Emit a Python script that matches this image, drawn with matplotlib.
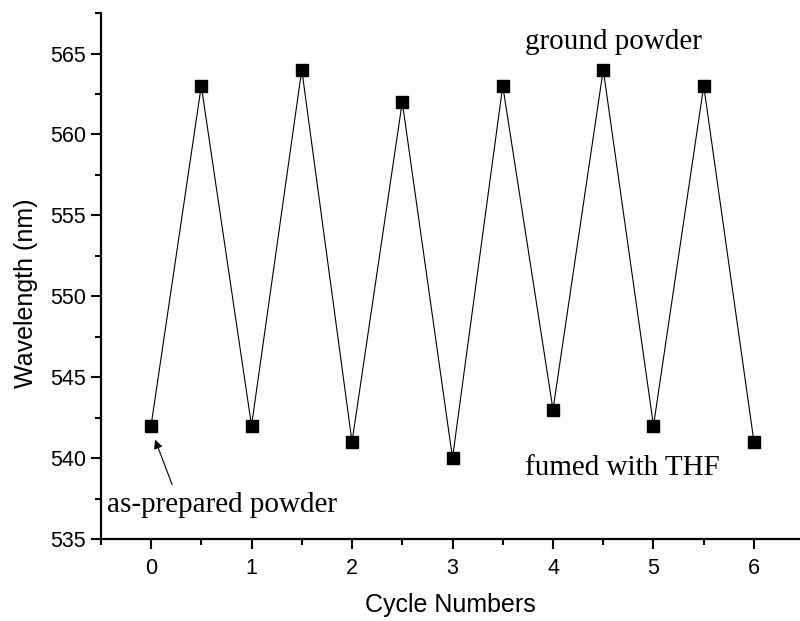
import matplotlib.pyplot as plt
from matplotlib.ticker import MultipleLocator

cycle = [0, 0.5, 1, 1.5, 2, 2.5, 3, 3.5, 4, 4.5, 5, 5.5, 6]
wavelength = [542, 563, 542, 564, 541, 562, 540, 563, 543, 564, 542, 563, 541]

plt.rcParams['font.family'] = ['Liberation Sans', 'DejaVu Sans']

fig = plt.figure(figsize=(8, 6.21), dpi=100)
ax = fig.add_axes([0.126, 0.132, 0.873, 0.847])

ax.plot(cycle, wavelength, color='black', lw=0.8, marker='s', ms=8,
        markerfacecolor='black', markeredgecolor='black')

ax.set_xlim(-0.5, 6.45)
ax.set_ylim(535, 567.5)
ax.xaxis.set_major_locator(MultipleLocator(1))
ax.xaxis.set_minor_locator(MultipleLocator(0.5))
ax.yaxis.set_major_locator(MultipleLocator(5))
ax.yaxis.set_minor_locator(MultipleLocator(2.5))

for s in ['top', 'right']:
    ax.spines[s].set_visible(False)
for s in ['left', 'bottom']:
    ax.spines[s].set_linewidth(1.6)
ax.tick_params(which='major', direction='out', length=7, width=1.5, labelsize=15.5)
ax.tick_params(which='minor', direction='out', length=4, width=1.5)
ax.tick_params(axis='x', pad=7)

ax.set_xlabel('Cycle Numbers', fontsize=18, labelpad=10)
ax.set_ylabel('Wavelength (nm)', fontsize=18)
ax.yaxis.set_label_coords(-0.09, 0.468)

serif = ['Liberation Serif', 'DejaVu Serif']
ax.text(4.6, 565.7, 'ground powder', family=serif, fontsize=21, ha='center', va='center')
ax.text(4.69, 539.4, 'fumed with THF', family=serif, fontsize=21, ha='center', va='center')
ax.text(-0.44, 537.1, 'as-prepared powder', family=serif, fontsize=21, ha='left', va='center')
ax.annotate('', xy=(0.03, 541.3), xytext=(0.22, 538.2),
            arrowprops=dict(arrowstyle='-|>', color='black', lw=0.8, mutation_scale=13))

plt.savefig('out.png', dpi=100)
